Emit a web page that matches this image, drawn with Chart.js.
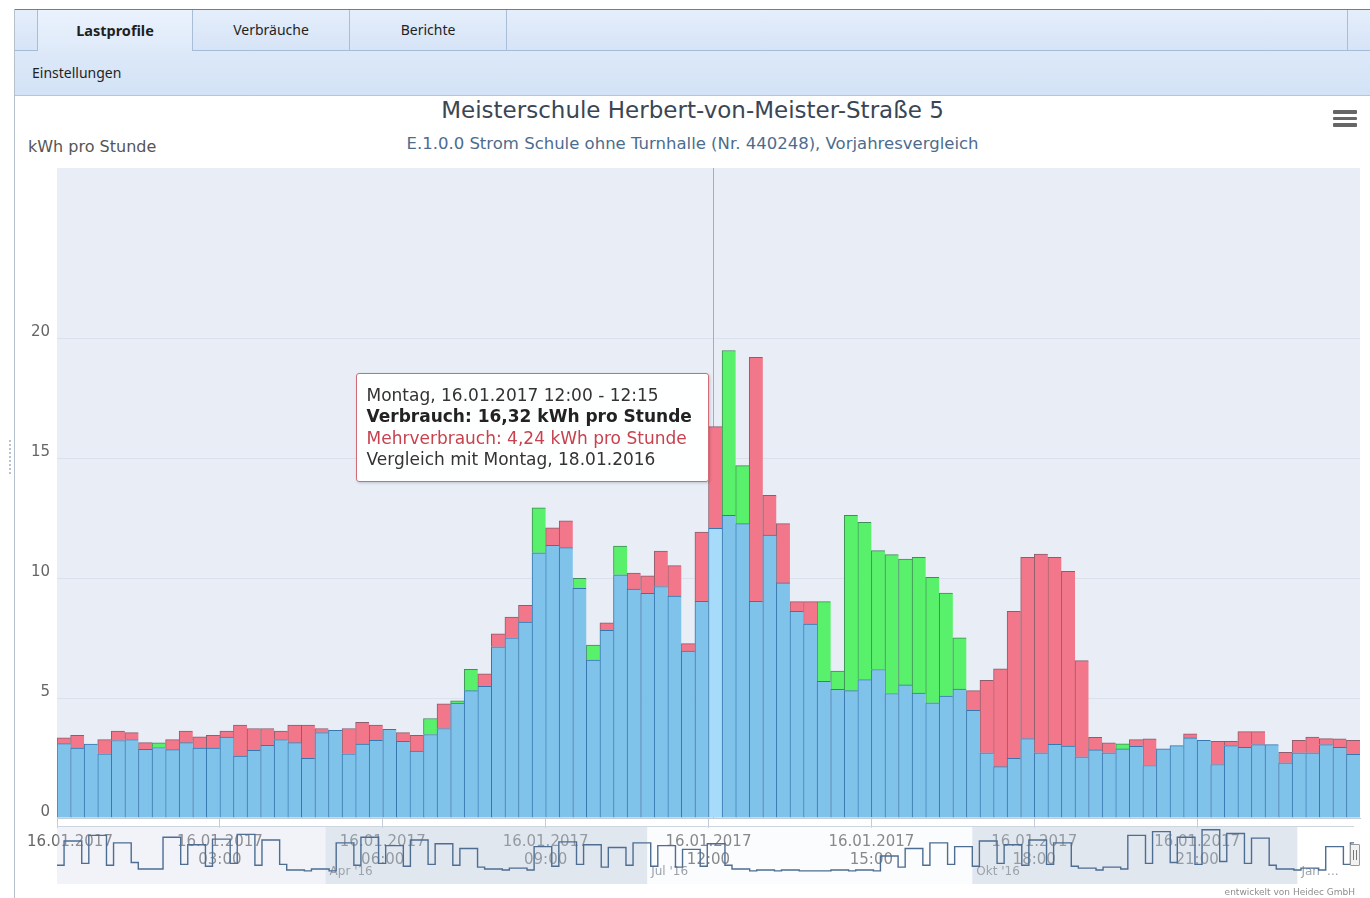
<!DOCTYPE html>
<html lang="de">
<head>
<meta charset="utf-8">
<title>Lastprofile</title>
<script src="https://cdn.jsdelivr.net/npm/chart.js@4.4.1/dist/chart.umd.min.js"></script>
<style>
  html, body { margin:0; padding:0; width:1370px; height:898px; overflow:hidden; background:#fff; }
  body { position:relative; font-family:"DejaVu Sans", Verdana, sans-serif; }
  .abs { position:absolute; }
  #topline { left:15px; top:9px; width:1355px; height:1px; background:#7c7c7c; }
  #leftline { left:14px; top:9px; width:1px; height:889px; background:#b5c0cf; }
  #grip { left:9px; top:440px; width:0; height:34px; border-left:2px dotted #b7c3d3; }
  #tabbar { left:15px; top:10px; width:1355px; height:40px; background:linear-gradient(#e5eefb,#d6e4f7); border-bottom:1px solid #a6bbd6; }
  .tab { position:absolute; top:0; height:40px; line-height:40px; text-align:center; font-family:"Noto Sans", sans-serif; font-size:14px; color:#1f1f1f; border-right:1px solid #a9bdd6; box-sizing:border-box; }
  #tab0 { left:22px; width:156px; border-left:1px solid #a9bdd6; font-weight:bold; font-size:14.5px; background:linear-gradient(#eaf2fd,#dfeaf9); height:41px; }
  #tab1 { left:178px; width:157px; }
  #tab2 { left:335px; width:157px; }
  #tabend { left:1332px; width:1px; }
  #toolbar { left:15px; top:51px; width:1355px; height:44px; background:linear-gradient(#dde9f9,#d3e2f6); border-bottom:1px solid #b4c6de; }
  #toolbar span { position:absolute; left:17px; top:0; line-height:43px; font-family:"Noto Sans", sans-serif; font-size:14px; color:#1f1f1f; }
  #title { left:15px; width:1355px; top:96px; text-align:center; font-size:23px; line-height:28px; color:#3b4654; }
  #subtitle { left:15px; width:1355px; top:134px; text-align:center; font-size:16.5px; line-height:20px; color:#4c6c8e; }
  #ytitle { left:28px; top:137px; font-size:16px; line-height:20px; color:#555; }
  #menu { left:1333px; top:110px; width:24px; height:18px; }
  #menu i { position:absolute; left:0; width:24px; height:3.5px; background:#666; border-radius:1px; }
  #mainCanvas { left:15px; top:152px; }
  #navCanvas { left:57px; top:826px; pointer-events:none; }
  #handle { left:1350px; top:844px; width:8px; height:20px; background:#f2f2f2; border:1px solid #999; border-radius:1px; }
  #handle:before, #handle:after { content:""; position:absolute; top:5px; width:1px; height:10px; background:#777; }
  #handle:before { left:2px; } #handle:after { left:5px; }
  #tooltip { position:absolute; box-sizing:border-box; width:353px; padding:11px 8px 11px 10px; background:rgba(255,255,255,0.96);
             border:1px solid #d26a78; border-radius:3px; box-shadow:1px 1px 3px rgba(0,0,0,0.18);
             font-size:17px; line-height:21.3px; color:#333; white-space:nowrap; }
  #tooltip .b { font-weight:bold; color:#222; }
  #tooltip .r { color:#c8414d; }
  #credit { right:15px; top:887px; font-size:9px; line-height:11px; color:#8d8d8d; }
</style>
</head>
<body>
<div class="abs" id="topline"></div>
<div class="abs" id="leftline"></div>
<div class="abs" id="grip"></div>
<div class="abs" id="tabbar">
  <div class="tab" id="tab0">Lastprofile</div>
  <div class="tab" id="tab1">Verbräuche</div>
  <div class="tab" id="tab2">Berichte</div>
  <div class="tab" id="tabend"></div>
</div>
<div class="abs" id="toolbar"><span>Einstellungen</span></div>
<div class="abs" id="title">Meisterschule Herbert-von-Meister-Straße 5</div>
<div class="abs" id="subtitle">E.1.0.0 Strom Schule ohne Turnhalle (Nr. 440248), Vorjahresvergleich</div>
<div class="abs" id="ytitle">kWh pro Stunde</div>
<div class="abs" id="menu"><i style="top:0"></i><i style="top:6.5px"></i><i style="top:13px"></i></div>
<canvas class="abs" id="mainCanvas" width="1355" height="746"></canvas>
<canvas class="abs" id="navCanvas" width="1297" height="58"></canvas>
<div class="abs" id="handle"></div>
<div id="tooltip"></div>
<div class="abs" id="credit">entwickelt von Heidec GmbH</div>

<script>
// ---------- DATA ----------
// Verbrauch 16.01.2017 (kWh pro Stunde), 96 Viertelstunden
const verbrauch = [
  3.34, 3.45, 3.08, 3.27, 3.62, 3.56, 3.14, 2.94, 3.27, 3.62, 3.38, 3.45,
  3.62, 3.87, 3.73, 3.73, 3.62, 3.87, 3.87, 3.73, 3.66, 3.73, 3.99, 3.87,
  3.70, 3.56, 3.45, 3.48, 4.76, 4.79, 5.31, 6.01, 7.68, 8.38, 8.87, 11.06,
  12.10, 12.39, 9.58, 6.58, 8.14, 10.14, 10.21, 10.10, 11.13, 10.52, 7.27, 11.92,
  16.32, 12.62, 12.27, 19.21, 13.45, 12.27, 9.02, 9.02, 5.70, 5.36, 5.31, 5.77,
  6.19, 5.19, 5.55, 5.21, 4.80, 5.08, 5.37, 5.31, 5.74, 6.22, 8.62, 10.87,
  11.00, 10.87, 10.28, 6.56, 3.36, 3.13, 2.88, 3.27, 3.30, 2.88, 3.02, 3.51,
  3.24, 3.20, 3.20, 3.60, 3.60, 3.06, 2.74, 3.24, 3.37, 3.31, 3.30, 3.24
];
// Vergleichswert Montag 18.01.2016 (kWh pro Stunde)
const vergleich = [
  3.10, 2.92, 3.08, 2.68, 3.23, 3.27, 2.86, 3.13, 2.85, 3.14, 2.92, 2.92,
  3.37, 2.58, 2.82, 3.03, 3.27, 3.14, 2.49, 3.56, 3.66, 2.68, 3.08, 3.24,
  3.70, 3.20, 2.79, 4.15, 3.73, 4.89, 6.20, 5.49, 7.14, 7.51, 8.17, 12.93,
  11.37, 11.27, 9.99, 7.21, 7.82, 11.34, 9.54, 9.37, 9.65, 9.25, 6.96, 9.03,
  12.08, 19.49, 14.69, 9.03, 11.80, 9.80, 8.62, 8.09, 9.02, 6.13, 12.62, 12.33,
  11.15, 10.98, 10.80, 10.87, 10.03, 9.38, 7.51, 4.49, 2.72, 2.14, 2.49, 3.31,
  2.72, 3.07, 3.00, 2.55, 2.84, 2.72, 3.09, 2.99, 2.19, 2.88, 3.02, 3.34,
  3.24, 2.23, 3.02, 2.95, 3.06, 3.06, 2.30, 2.72, 2.72, 3.06, 2.95, 2.65
];
const dayLabel = '16.01.2017';
const categories = [];
for (let h = 0; h < 24; h++) for (let m = 0; m < 60; m += 15)
  categories.push(String(h).padStart(2,'0') + ':' + String(m).padStart(2,'0'));
const xTickLabels = [
  ['16.01.2017'], ['16.01.2017','03:00'], ['16.01.2017','06:00'], ['16.01.2017','09:00'],
  ['16.01.2017','12:00'], ['16.01.2017','15:00'], ['16.01.2017','18:00'], ['16.01.2017','21:00']
];
const yTicksShown = [0, 5, 10, 15, 20];
const hoverIndex = 48;

// Navigator (Jahresverlauf), Tage ab 16.01.2016 und Werte
const navDays = [0, 2, 7, 9, 14, 16, 21, 23, 28, 30, 35, 37, 42, 44, 49, 51, 56, 58, 63, 65, 70, 72, 77,
  79, 84, 86, 91, 93, 98, 100, 105, 107, 112, 114, 119, 121, 126, 128, 133, 135, 140, 142, 147,
  149, 154, 156, 161, 163, 168, 170, 175, 177, 182, 184, 189, 191, 196, 198, 203, 205, 210, 212, 217,
  219, 224, 226, 231, 233, 238, 240, 245, 247, 252, 254, 259, 261, 266, 268, 273, 275, 280, 282, 287,
  289, 294, 296, 301, 303, 308, 310, 315, 317, 322, 324, 329, 331, 336, 338, 343, 345, 350, 352, 357,
  359, 364, 366, 367];
const navValues = [20, 46, 22, 52, 20, 44, 23, 16, 16, 50, 21, 42, 19, 48, 22, 53, 20, 47, 21, 15, 14, 16, 14,
  44, 20, 50, 22, 41, 19, 47, 21, 43, 20, 38, 18, 16, 15, 17, 15, 40, 19, 45, 21,
  42, 18, 39, 20, 44, 19, 41, 18, 37, 19, 43, 20, 16, 14, 15, 14, 15, 14, 14, 14,
  15, 14, 15, 14, 30, 18, 38, 20, 44, 21, 40, 19, 46, 22, 42, 20, 47, 21, 44, 19,
  17, 15, 18, 16, 52, 22, 56, 23, 50, 21, 58, 24, 54, 22, 49, 20, 16, 15, 17, 15,
  40, 21, 44, 44];
const navBandStarts = [0, 76, 167, 259, 351];
const navBandLabels = ['', "Apr '16", "Jul '16", "Okt '16", "Jan '..."];
const navDayMax = 367;

// ---------- STYLE ----------
const FONT = '"DejaVu Sans", Verdana, sans-serif';
const COL_BLUE = '#7fc2ea', COL_BLUE_HOVER = '#a6dbf9', COL_BLUE_BORDER = '#3577ae';
const COL_RED = '#f3778a', COL_RED_BORDER = '#8e5d6b';
const COL_GREEN = '#59f06b', COL_GREEN_BORDER = '#3f8d57';
const PLOT_BG = '#e8edf6', GRID = '#dae1ec', AXIS = '#c2ccdb';

Chart.defaults.font.family = FONT;

const base = verbrauch.map((v, i) => Math.min(v, vergleich[i]));
const mehr = verbrauch.map((v, i) => v > vergleich[i] ? +(v - vergleich[i]).toFixed(2) : null);
const minder = verbrauch.map((v, i) => vergleich[i] > v ? +(vergleich[i] - v).toFixed(2) : null);

const plotBg = {
  id: 'plotBg',
  beforeDraw(chart) {
    const { ctx, chartArea: a } = chart;
    ctx.save(); ctx.fillStyle = PLOT_BG; ctx.fillRect(a.left, a.top, a.right - a.left, a.bottom - a.top); ctx.restore();
    // keep the first date label inside the plot, like the original axis does
    const items = chart.scales.x.getLabelItems(chart.chartArea);
    if (items.length && items[0].options && items[0].options.translation && !items[0]._shifted) {
      items[0].options.translation[0] += 13; items[0]._shifted = true;
    }
  }
};
const crosshair = {
  id: 'crosshair',
  beforeDatasetsDraw(chart) {
    const { ctx, chartArea: a } = chart;
    const x = Math.round(chart.scales.x.getPixelForValue(hoverIndex)) - 1.5;
    ctx.save(); ctx.strokeStyle = '#a8adb5'; ctx.lineWidth = 1;
    ctx.beginPath(); ctx.moveTo(x, a.top); ctx.lineTo(x, a.bottom); ctx.stroke(); ctx.restore();
  }
};

const barBorder = { top: 1, left: 1, right: 0, bottom: 0 };
const main = new Chart(document.getElementById('mainCanvas'), {
  type: 'bar',
  data: {
    labels: categories,
    datasets: [
      { label: 'Vergleich', data: base,
        backgroundColor: ctx => ctx.dataIndex === hoverIndex ? COL_BLUE_HOVER : COL_BLUE,
        borderColor: COL_BLUE_BORDER, borderWidth: barBorder, borderSkipped: false },
      { label: 'Mehrverbrauch', data: mehr, backgroundColor: COL_RED,
        borderColor: COL_RED_BORDER, borderWidth: barBorder, borderSkipped: false },
      { label: 'Minderverbrauch', data: minder, backgroundColor: COL_GREEN,
        borderColor: COL_GREEN_BORDER, borderWidth: barBorder, borderSkipped: false }
    ]
  },
  options: {
    responsive: false, animation: false, events: [],
    layout: { padding: { top: 0, right: 10, left: 0, bottom: 0 } },
    datasets: { bar: { barPercentage: 1, categoryPercentage: 1 } },
    plugins: { legend: { display: false }, tooltip: { enabled: false }, title: { display: false } },
    scales: {
      x: {
        stacked: true,
        grid: { drawOnChartArea: false, drawTicks: true, tickLength: 10, offset: true,
                color: c => (c.index % 12 === 0) ? AXIS : 'rgba(0,0,0,0)' },
        border: { display: true, color: AXIS, width: 1 },
        ticks: { autoSkip: false, maxRotation: 0, minRotation: 0, padding: 5, labelOffset: -6.8,
                 color: '#666', font: { size: 15, lineHeight: 1.2 },
                 callback: (v, i) => (i % 12 === 0) ? xTickLabels[i / 12] : '' },
        afterFit: s => { s.height = 80; }
      },
      y: {
        stacked: true, min: 0, max: 27.1,
        grid: { color: GRID, drawTicks: false },
        border: { display: false },
        ticks: { stepSize: 5, padding: 7, labelOffset: -6, color: '#666', font: { size: 15 } },
        afterBuildTicks: s => { s.ticks = s.ticks.filter(t => yTicksShown.includes(t.value)); },
        afterFit: s => { s.width = 42; }
      }
    }
  },
  plugins: [plotBg, crosshair]
});

// ---------- Tooltip (HTML, anchored to the hovered bar) ----------
(function () {
  const tip = document.getElementById('tooltip');
  const fmt = v => v.toFixed(2).replace('.', ',');
  tip.innerHTML =
    '<div>Montag, ' + dayLabel + ' ' + categories[hoverIndex] + ' - ' + categories[hoverIndex + 1] + '</div>' +
    '<div class="b">Verbrauch: ' + fmt(verbrauch[hoverIndex]) + ' kWh pro Stunde</div>' +
    '<div class="r">Mehrverbrauch: ' + fmt(verbrauch[hoverIndex] - vergleich[hoverIndex]) + ' kWh pro Stunde</div>' +
    '<div>Vergleich mit Montag, 18.01.2016</div>';
  const cv = document.getElementById('mainCanvas');
  const el = main.getDatasetMeta(0).data[hoverIndex];
  const barLeft = cv.offsetLeft + el.x - el.width / 2;
  const yMid = cv.offsetTop + main.scales.y.getPixelForValue(verbrauch[hoverIndex]);
  tip.style.left = (barLeft - tip.offsetWidth) + 'px';
  tip.style.top = (yMid - tip.offsetHeight / 2 + 1) + 'px';
})();

// ---------- Navigator ----------
const navBands = {
  id: 'navBands',
  beforeDatasetsDraw(chart) {
    const { ctx, chartArea: a, scales: { x } } = chart;
    ctx.save();
    const fills = ['rgba(214,222,234,0.35)', 'rgba(196,207,224,0.5)', 'rgba(240,243,248,0.25)', 'rgba(196,207,224,0.5)', 'rgba(255,255,255,0.55)'];
    navBandStarts.forEach((d, i) => {
      const x0 = x.getPixelForValue(d);
      const x1 = x.getPixelForValue(i + 1 < navBandStarts.length ? navBandStarts[i + 1] : navDayMax);
      ctx.fillStyle = fills[i % fills.length];
      ctx.fillRect(x0, a.top, x1 - x0, a.bottom - a.top);
    });
    ctx.fillStyle = '#9da3ab'; ctx.font = '12px ' + FONT; ctx.textBaseline = 'middle'; ctx.textAlign = 'left';
    navBandStarts.forEach((d, i) => { if (navBandLabels[i]) ctx.fillText(navBandLabels[i], x.getPixelForValue(d) + 4, a.top + 46); });
    ctx.strokeStyle = '#cdd5e1'; ctx.lineWidth = 1;
    ctx.beginPath(); ctx.moveTo(a.left, a.top + 0.5); ctx.lineTo(a.right, a.top + 0.5); ctx.stroke();
    ctx.restore();
  }
};
new Chart(document.getElementById('navCanvas'), {
  type: 'line',
  data: { datasets: [{ data: navDays.map((d, i) => ({ x: d, y: navValues[i] })),
    borderColor: '#4e6d93', borderWidth: 1.4, stepped: true, pointRadius: 0, fill: false }] },
  options: {
    responsive: false, animation: false, events: [],
    layout: { padding: 0 },
    plugins: { legend: { display: false }, tooltip: { enabled: false } },
    scales: { x: { type: 'linear', min: 0, max: navDayMax, display: false },
              y: { min: 0, max: 62, display: false } }
  },
  plugins: [navBands]
});
</script>
</body>
</html>
